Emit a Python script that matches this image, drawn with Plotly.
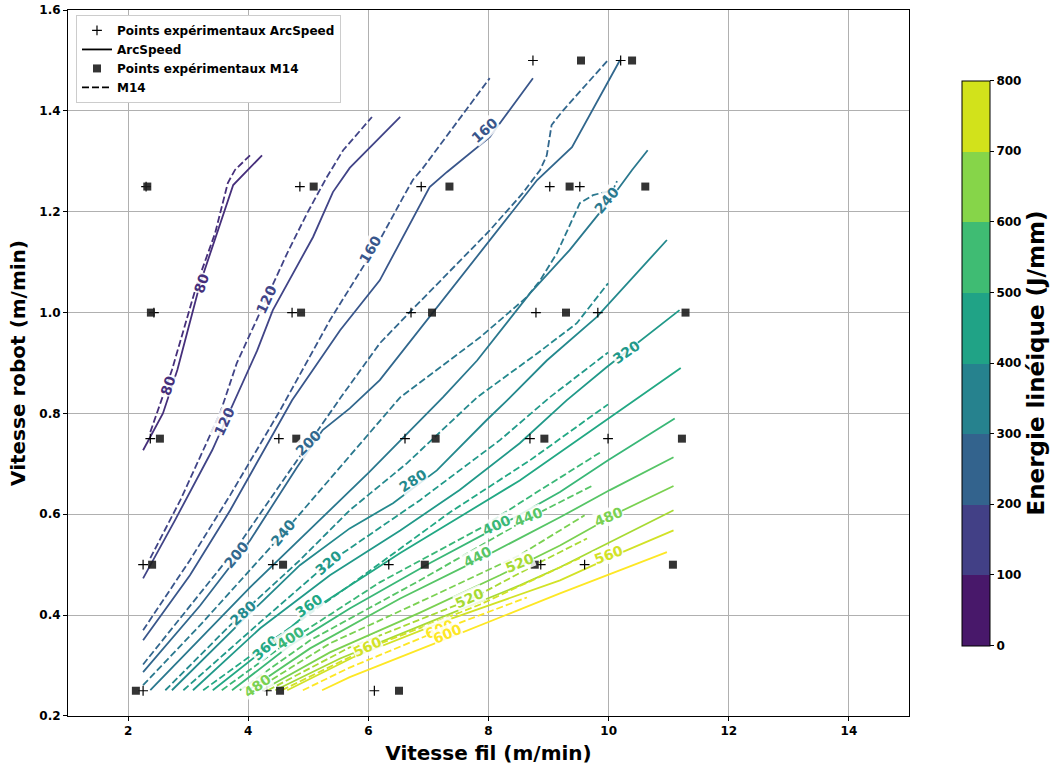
import plotly.graph_objects as go

# ---------------- experimental points ----------------
arc_pts_x = [8.74, 10.20, 2.30, 4.86, 6.88, 9.02, 9.52, 2.43, 4.73, 6.71, 8.79, 9.82,
             2.37, 4.51, 6.61, 8.69, 9.99, 2.25, 4.41, 6.34, 8.87, 9.60, 2.25, 4.31, 6.10]
arc_pts_y = [1.50, 1.50, 1.25, 1.25, 1.25, 1.25, 1.25, 1.00, 1.00, 1.00, 1.00, 1.00,
             0.75, 0.75, 0.75, 0.75, 0.75, 0.50, 0.50, 0.50, 0.50, 0.50, 0.25, 0.25, 0.25]
m14_pts_x = [9.54, 10.39, 2.32, 5.09, 7.35, 9.35, 10.61, 2.38, 4.88, 7.06, 9.29, 11.28,
             2.53, 4.80, 7.12, 8.93, 11.22, 2.40, 4.58, 6.94, 8.77, 11.07, 2.13, 4.53, 6.51]
m14_pts_y = [1.50, 1.50, 1.25, 1.25, 1.25, 1.25, 1.25, 1.00, 1.00, 1.00, 1.00, 1.00,
             0.75, 0.75, 0.75, 0.75, 0.75, 0.50, 0.50, 0.50, 0.50, 0.50, 0.25, 0.25, 0.25]

levels = [80, 120, 160, 200, 240, 280, 320, 360, 400, 440, 480, 520, 560, 600]

# axis ticks
x_ticks = [2, 4, 6, 8, 10, 12, 14]
y_ticks = [0.2, 0.4, 0.6, 0.8, 1.0, 1.2, 1.4, 1.6]
y_tick_text = ["0.2", "0.4", "0.6", "0.8", "1.0", "1.2", "1.4", "1.6"]

# ---------------- ArcSpeed iso-energy lines (solid) ----------------
arc_80_x = [2.25, 2.58, 2.82, 3.20, 3.75, 4.23]
arc_80_y = [0.727, 0.800, 0.886, 1.058, 1.253, 1.312]
arc_120_x = [2.25, 2.78, 3.40, 3.70, 4.15, 4.41, 5.08, 5.41, 5.69, 6.53]
arc_120_y = [0.473, 0.588, 0.727, 0.806, 0.925, 1.005, 1.150, 1.239, 1.287, 1.388]
arc_160_x = [2.25, 3.03, 3.70, 4.73, 5.53, 6.19, 7.02, 7.31, 8.02, 8.74]
arc_160_y = [0.350, 0.479, 0.608, 0.826, 0.965, 1.064, 1.249, 1.279, 1.348, 1.465]
arc_200_x = [2.25, 3.20, 4.03, 4.81, 5.24, 5.69, 6.19, 7.07, 8.02, 8.81, 9.39, 10.19]
arc_200_y = [0.287, 0.419, 0.548, 0.693, 0.767, 0.810, 0.866, 0.999, 1.144, 1.263, 1.328, 1.501]
arc_240_x = [2.37, 4.03, 6.01, 7.24, 7.81, 8.69, 9.35, 10.02, 10.39, 10.65]
arc_240_y = [0.251, 0.455, 0.683, 0.832, 0.905, 1.038, 1.124, 1.223, 1.283, 1.322]
arc_280_x = [2.73, 3.91, 4.86, 5.69, 6.41, 7.14, 7.97, 8.31, 8.97, 9.80, 10.97]
arc_280_y = [0.251, 0.390, 0.499, 0.572, 0.622, 0.687, 0.787, 0.826, 0.905, 0.991, 1.144]
arc_320_x = [3.08, 4.20, 5.36, 6.53, 7.52, 8.52, 9.30, 9.97, 11.18]
arc_320_y = [0.251, 0.374, 0.479, 0.568, 0.648, 0.741, 0.826, 0.892, 1.005]
arc_360_x = [3.41, 4.25, 5.00, 6.53, 8.52, 9.99, 11.20]
arc_360_y = [0.251, 0.330, 0.405, 0.523, 0.667, 0.790, 0.890]
arc_400_x = [3.73, 4.70, 5.69, 7.02, 8.14, 9.19, 9.99, 11.10]
arc_400_y = [0.251, 0.340, 0.413, 0.503, 0.574, 0.644, 0.707, 0.790]
arc_440_x = [4.00, 5.03, 6.53, 7.82, 9.19, 10.02, 11.08]
arc_440_y = [0.251, 0.334, 0.433, 0.509, 0.594, 0.648, 0.713]
arc_480_x = [4.23, 5.36, 6.86, 8.19, 9.19, 10.24, 11.08]
arc_480_y = [0.251, 0.326, 0.405, 0.479, 0.538, 0.608, 0.656]
arc_520_x = [4.45, 5.53, 7.02, 8.52, 9.19, 11.08]
arc_520_y = [0.251, 0.314, 0.386, 0.459, 0.495, 0.608]
arc_560_x = [4.65, 5.74, 7.31, 8.36, 9.19, 10.19, 11.08]
arc_560_y = [0.251, 0.316, 0.390, 0.435, 0.469, 0.523, 0.568]
arc_600_x = [5.23, 5.69, 7.36, 9.19, 10.97]
arc_600_y = [0.251, 0.277, 0.356, 0.443, 0.525]

# ---------------- M14 iso-energy lines (dashed) ----------------
m14_80_x = [2.37, 2.53, 2.73, 3.15, 3.45, 3.66, 3.78, 4.03]
m14_80_y = [0.763, 0.816, 0.886, 1.058, 1.158, 1.257, 1.283, 1.312]
m14_120_x = [2.37, 2.87, 3.25, 3.53, 3.81, 4.36, 4.65, 4.98, 5.31, 5.58, 6.06]
m14_120_y = [0.513, 0.628, 0.727, 0.800, 0.900, 1.044, 1.118, 1.197, 1.269, 1.322, 1.388]
m14_160_x = [2.25, 3.03, 3.70, 4.53, 5.36, 6.19, 6.58, 6.74, 6.91, 7.52, 8.02]
m14_160_y = [0.370, 0.509, 0.638, 0.806, 0.985, 1.144, 1.229, 1.263, 1.287, 1.386, 1.465]
m14_200_x = [2.25, 3.03, 3.81, 4.58, 5.53, 6.19, 6.69, 8.02, 8.57, 8.86, 8.97, 9.05, 9.22, 9.99]
m14_200_y = [0.302, 0.417, 0.534, 0.667, 0.830, 0.939, 1.001, 1.163, 1.237, 1.283, 1.312, 1.372, 1.398, 1.501]
m14_240_x = [2.25, 3.20, 4.58, 5.53, 6.53, 7.86, 8.64, 8.86, 9.14, 9.52, 9.74, 10.07, 10.14]
m14_240_y = [0.261, 0.380, 0.562, 0.693, 0.832, 0.951, 1.031, 1.064, 1.118, 1.217, 1.233, 1.243, 1.261]
m14_280_x = [2.62, 3.91, 4.86, 5.69, 6.64, 7.81, 8.81, 9.47, 9.99]
m14_280_y = [0.251, 0.405, 0.509, 0.608, 0.701, 0.832, 0.919, 0.979, 1.058]
m14_320_x = [2.92, 4.20, 5.33, 6.86, 8.19, 9.02, 9.99]
m14_320_y = [0.251, 0.386, 0.503, 0.628, 0.747, 0.832, 0.921]
m14_360_x = [3.25, 4.28, 5.69, 7.36, 8.69, 9.99]
m14_360_y = [0.251, 0.340, 0.459, 0.604, 0.707, 0.818]
m14_400_x = [3.56, 4.70, 6.19, 7.86, 8.86, 9.89]
m14_400_y = [0.251, 0.350, 0.465, 0.572, 0.648, 0.725]
m14_440_x = [3.86, 5.03, 6.86, 8.66, 9.75]
m14_440_y = [0.251, 0.350, 0.469, 0.592, 0.658]
m14_480_x = [4.11, 5.36, 7.02, 8.52, 9.60]
m14_480_y = [0.251, 0.344, 0.435, 0.519, 0.598]
m14_520_x = [4.33, 5.69, 7.66, 8.86, 9.64]
m14_520_y = [0.251, 0.336, 0.429, 0.505, 0.552]
m14_560_x = [4.56, 5.99, 7.86, 9.52]
m14_560_y = [0.251, 0.334, 0.421, 0.513]
m14_600_x = [4.91, 5.69, 7.19, 8.64]
m14_600_y = [0.251, 0.296, 0.370, 0.435]

# ---------------- inline contour labels ----------------
label_level = [80, 80, 120, 120, 160, 160, 200, 200, 240, 240, 280, 280, 320, 320,
               360, 360, 400, 400, 440, 440, 480, 480, 520, 520, 560, 560, 600, 600]
label_x = [3.23, 2.67, 4.30, 3.60, 6.03, 7.94, 3.80, 5.00, 4.58, 9.97, 3.91, 6.73, 5.33, 10.30,
           4.28, 5.00, 4.70, 8.14, 7.81, 8.66, 4.15, 9.99, 7.69, 8.52, 5.98, 9.99, 7.19, 7.31]
label_y = [1.058, 0.856, 1.025, 0.783, 1.124, 1.362, 0.519, 0.741, 0.562, 1.223, 0.405, 0.667,
           0.503, 0.921, 0.334, 0.419, 0.354, 0.578, 0.515, 0.594, 0.259, 0.594, 0.433, 0.503,
           0.336, 0.519, 0.372, 0.362]
label_angle = [-72, -72, -65, -65, -60, -42, -50, -45, -50, -50, -42, -33, -40, -35,
               -42, -35, -33, -25, -27, -22, -35, -23, -24, -22, -25, -20, -22, -22]

# colorbar
cbar_ticks = [0, 100, 200, 300, 400, 500, 600, 700, 800]
cbar_colors = ["#48186a", "#424086", "#33638d", "#26828e", "#20a386", "#3fbc73", "#86d549", "#d2e21b"]

VIRIDIS = ["#440154", "#482475", "#414487", "#355f8d", "#2a788e", "#21918c",
           "#22a884", "#44bf70", "#7ad151", "#bddf26", "#fde725"]


def viridis(t):
    t = max(0.0, min(1.0, t))
    pos = t * 10
    i = min(int(pos), 9)
    f = pos - i
    a = VIRIDIS[i]
    b = VIRIDIS[i + 1]
    ca = [int(a[k:k + 2], 16) for k in (1, 3, 5)]
    cb = [int(b[k:k + 2], 16) for k in (1, 3, 5)]
    c = [round(ca[j] + (cb[j] - ca[j]) * f) for j in range(3)]
    return "rgb(%d,%d,%d)" % tuple(c)


def lvl_color(level):
    return viridis(level / 600.0)


g = globals()
fig = go.Figure()

FONT = "DejaVu Sans"

for lv in levels:
    col = lvl_color(lv)
    fig.add_trace(go.Scatter(x=g["m14_%d_x" % lv], y=g["m14_%d_y" % lv], mode="lines",
                             line=dict(color=col, width=1.8, dash="7px,3px"),
                             showlegend=False, hoverinfo="skip"))
    fig.add_trace(go.Scatter(x=g["arc_%d_x" % lv], y=g["arc_%d_y" % lv], mode="lines",
                             line=dict(color=col, width=1.8),
                             showlegend=False, hoverinfo="skip"))

# legend entries + experimental points
fig.add_trace(go.Scatter(x=arc_pts_x, y=arc_pts_y, mode="markers",
                         name="<b>Points expérimentaux ArcSpeed</b>",
                         marker=dict(symbol="cross-thin", size=7, color="black",
                                     line=dict(color="black", width=1.2))))
fig.add_trace(go.Scatter(x=[None], y=[None], mode="lines", name="<b>ArcSpeed</b>",
                         line=dict(color="black", width=1.8)))
fig.add_trace(go.Scatter(x=m14_pts_x, y=m14_pts_y, mode="markers",
                         name="<b>Points expérimentaux M14</b>",
                         marker=dict(symbol="square", size=8, color="rgba(30,30,30,0.9)",
                                     line=dict(width=0))))
fig.add_trace(go.Scatter(x=[None], y=[None], mode="lines", name="<b>M14</b>",
                         line=dict(color="black", width=1.8, dash="7px,3px")))

# colorbar carrier
n = len(cbar_colors)
cscale = []
for i, c in enumerate(cbar_colors):
    cscale.append([i / n, c])
    cscale.append([(i + 1) / n, c])
fig.add_trace(go.Scatter(x=[None], y=[None], mode="markers", showlegend=False,
                         marker=dict(color=[0, 800], cmin=0, cmax=800, colorscale=cscale,
                                     showscale=True,
                                     colorbar=dict(x=1.063, xanchor="left", xpad=0,
                                                   y=0.5, yanchor="middle", len=0.8,
                                                   lenmode="fraction", ypad=0, thickness=28,
                                                   outlinecolor="black", outlinewidth=1,
                                                   tickvals=cbar_ticks, ticks="outside",
                                                   ticklen=4, tickcolor="black",
                                                   tickfont=dict(family=FONT, size=12,
                                                                 color="black", weight="bold"),
                                                   title=dict(text="<b>Energie linéique (J/mm)</b>",
                                                              side="right",
                                                              font=dict(family=FONT, size=23,
                                                                        color="black"))))))

for lv, lx, ly, ang in zip(label_level, label_x, label_y, label_angle):
    fig.add_annotation(x=lx, y=ly, xref="x", yref="y", text="<b>%d</b>" % lv,
                       showarrow=False, textangle=ang,
                       font=dict(family=FONT, size=14, color=lvl_color(lv)),
                       bgcolor="rgba(255,255,255,0.85)", borderpad=0)

fig.update_layout(
    width=1061, height=769,
    margin=dict(l=68, r=152, t=10, b=53, autoexpand=False),
    paper_bgcolor="white", plot_bgcolor="white",
    font=dict(family=FONT, color="black"),
    legend=dict(x=0.0095, y=0.993, xanchor="left", yanchor="top",
                bgcolor="white", bordercolor="#cccccc", borderwidth=1,
                font=dict(family=FONT, size=12, color="black"),
                tracegroupgap=0, itemwidth=30),
)
fig.update_xaxes(range=[1, 15], tickvals=x_ticks, showgrid=True, gridcolor="#b0b0b0",
                 gridwidth=1, showline=True, linecolor="black", linewidth=1, mirror=True,
                 ticks="outside", ticklen=4, tickcolor="black", zeroline=False,
                 tickfont=dict(family=FONT, size=12, color="black", weight="bold"),
                 title=dict(text="<b>Vitesse fil (m/min)</b>", standoff=8,
                            font=dict(family=FONT, size=20, color="black")))
fig.update_yaxes(range=[0.1999, 1.6002], tickvals=y_ticks, ticktext=y_tick_text,
                 ticklabeloverflow="allow",
                 showgrid=True,
                 gridcolor="#b0b0b0", gridwidth=1, showline=True, linecolor="black",
                 linewidth=1, mirror=True, ticks="outside", ticklen=4, tickcolor="black",
                 zeroline=False,
                 tickfont=dict(family=FONT, size=12, color="black", weight="bold"),
                 title=dict(text="<b>Vitesse robot (m/min)</b>", standoff=8,
                            font=dict(family=FONT, size=20, color="black")))

# remove the browser's default 8px body margin so the figure fills the window exactly
fig.write_html("out.html", config={"displayModeBar": False},
               post_script="document.body.style.margin='0';")
